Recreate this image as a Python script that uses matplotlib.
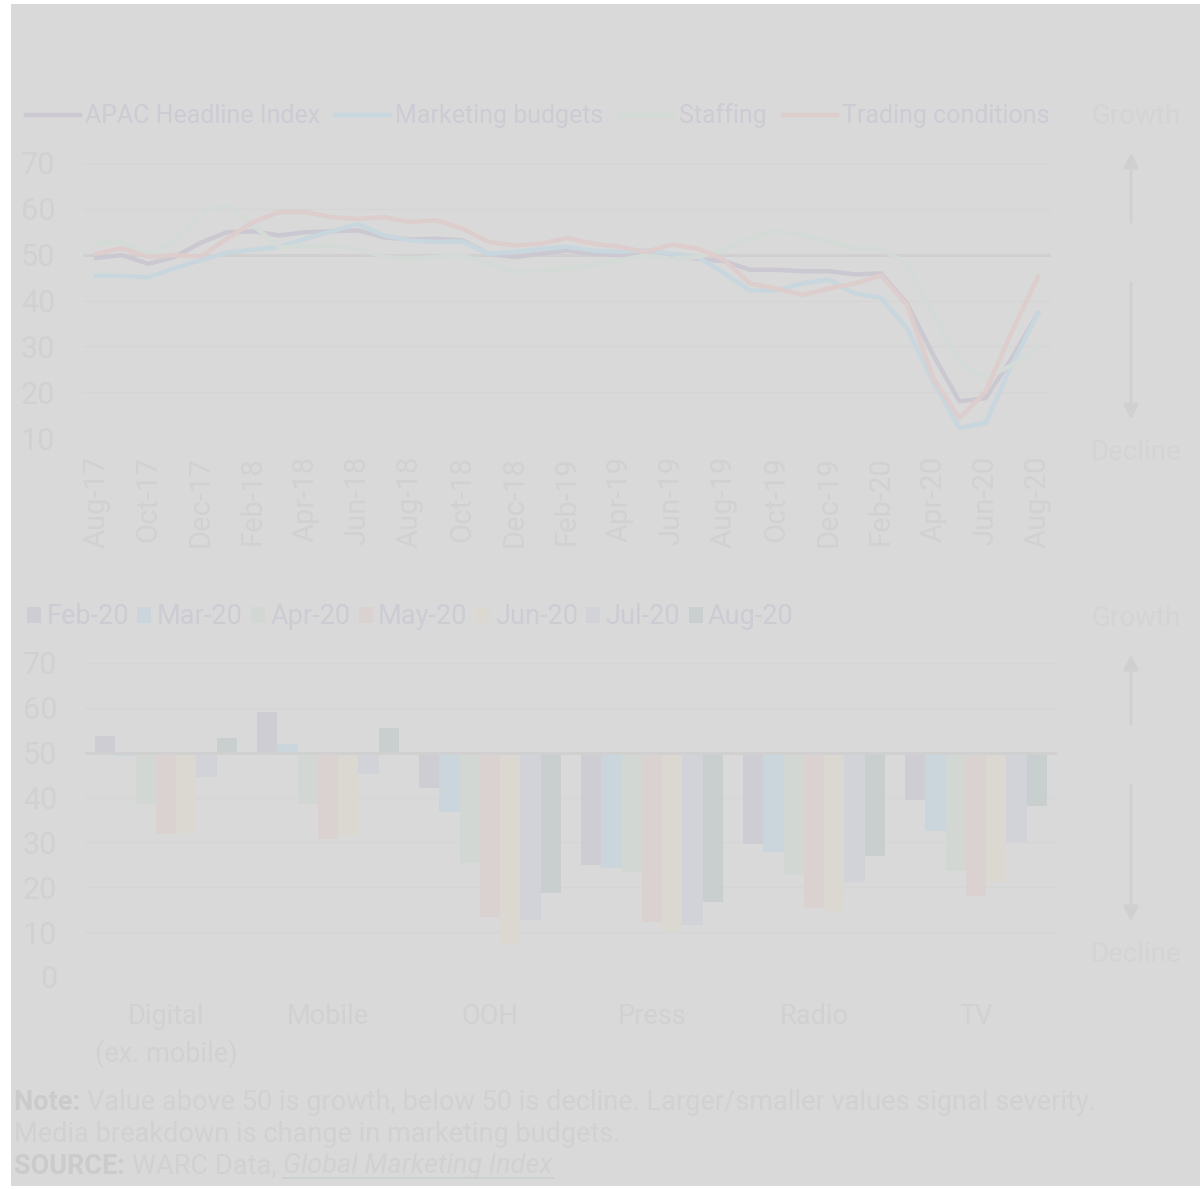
import matplotlib
matplotlib.use('Agg')
import matplotlib.pyplot as plt
from matplotlib.patches import Rectangle, FancyArrowPatch
from matplotlib.lines import Line2D
import numpy as np

plt.rcParams['font.family'] = ['Roboto', 'DejaVu Sans']

# --- data: line chart (APAC index, monthly Aug-17 .. Aug-20) ---
months = ['Aug-17', 'Sep-17', 'Oct-17', 'Nov-17', 'Dec-17', 'Jan-18', 'Feb-18', 'Mar-18',
          'Apr-18', 'May-18', 'Jun-18', 'Jul-18', 'Aug-18', 'Sep-18', 'Oct-18', 'Nov-18',
          'Dec-18', 'Jan-19', 'Feb-19', 'Mar-19', 'Apr-19', 'May-19', 'Jun-19', 'Jul-19',
          'Aug-19', 'Sep-19', 'Oct-19', 'Nov-19', 'Dec-19', 'Jan-20', 'Feb-20', 'Mar-20',
          'Apr-20', 'May-20', 'Jun-20', 'Jul-20', 'Aug-20']
headline = [49.3, 49.9, 48.0, 49.5, 52.6, 54.9, 55.1, 54.2, 54.9, 55.1, 55.3, 53.8, 53.3,
            53.5, 53.1, 50.2, 49.5, 50.2, 50.9, 50.2, 49.9, 50.2, 49.9, 49.1, 48.6, 46.7,
            46.7, 46.4, 46.4, 45.7, 45.9, 39.3, 28.1, 18.0, 18.7, 27.4, 37.2]
marketing = [45.4, 45.4, 45.1, 47.0, 48.8, 50.4, 51.1, 51.7, 53.5, 55.1, 56.7, 54.2, 53.1,
             52.8, 52.9, 50.2, 50.6, 51.3, 51.7, 50.9, 50.6, 50.9, 50.2, 49.5, 46.0, 42.2,
             42.2, 43.7, 44.6, 41.5, 40.6, 33.9, 22.3, 12.2, 13.3, 25.9, 37.2]
staffing = [52.4, 52.8, 50.2, 52.8, 59.3, 60.7, 56.4, 51.7, 51.7, 52.0, 51.3, 49.5, 49.1,
            49.5, 49.9, 48.0, 46.2, 46.6, 47.0, 47.7, 48.8, 49.9, 49.1, 49.5, 51.0, 53.5,
            55.3, 54.2, 52.8, 51.4, 51.3, 48.0, 36.8, 26.7, 23.0, 25.9, 29.9]
trading = [50.2, 51.4, 49.5, 49.9, 49.6, 53.5, 57.1, 59.3, 59.3, 58.2, 57.8, 58.2, 57.1,
           57.5, 55.7, 52.8, 52.0, 52.4, 53.6, 52.4, 51.7, 50.6, 52.2, 51.3, 48.9, 43.7,
           42.6, 41.2, 42.6, 43.7, 45.5, 39.0, 23.0, 14.3, 20.1, 33.2, 45.1]
line_names = ['APAC Headline Index', 'Marketing budgets', 'Staffing', 'Trading conditions']

# --- data: media breakdown bars ---
media = ['Digital\n(ex. mobile)', 'Mobile', 'OOH', 'Press', 'Radio', 'TV']
bar_months = ['Feb-20', 'Mar-20', 'Apr-20', 'May-20', 'Jun-20', 'Jul-20', 'Aug-20']
feb20 = [53.8, 59.1, 42.2, 25.0, 29.6, 39.5]
mar20 = [49.2, 51.9, 36.8, 24.4, 27.9, 32.6]
apr20 = [38.6, 38.5, 25.5, 23.5, 22.8, 23.6]
may20 = [31.8, 30.7, 13.4, 12.3, 15.3, 18.0]
jun20 = [32.1, 31.7, 7.3, 10.3, 14.8, 21.2]
jul20 = [44.6, 45.2, 12.6, 11.5, 21.1, 30.0]
aug20 = [53.3, 55.6, 18.7, 16.7, 27.0, 38.1]

# colours (very washed out)
bg = '#d9d9d9'
line_cols = ['#cbc8d1', '#c8d6de', '#d4dbd7', '#ddcdcd']
bar_cols = ['#cfcdd4', '#cad5dc', '#d3d7d4', '#dad1d1', '#dad8d0', '#d2d3d8', '#c9cfcf']
txt = '#cdcbd3'
tick_col = '#d1d1d1'
grid_col = '#d5d5d5'
base_col = '#d0d0d0'

W, H = 1200, 1189
fx = lambda x: x / W
fy = lambda y: 1 - y / H

fig = plt.figure(figsize=(12, 11.89), dpi=100)
fig.patch.set_facecolor('white')
fig.add_artist(Rectangle((fx(11), fy(1186)), fx(1189), (1186 - 4) / H,
                         transform=fig.transFigure, facecolor=bg, edgecolor='none', zorder=-10))

# ---------------- line chart ----------------
ax1 = fig.add_axes([fx(83), fy(438), 968 / W, 275 / H])
ax1.set_facecolor('none')
x = np.arange(len(months))
for vals, name, c in zip([headline, marketing, staffing, trading], line_names, line_cols):
    ax1.plot(x, vals, color=c, lw=3.2, label=name, solid_joinstyle='round', zorder=3)
ax1.set_xlim(-0.5, len(months) - 0.5)
ax1.set_ylim(10, 70)
ax1.set_yticks(range(10, 71, 10))
for v in range(10, 71, 10):
    if v != 50:
        ax1.axhline(v, color=grid_col, lw=1, zorder=1)
ax1.axhline(50, color=base_col, lw=2, zorder=2)
ax1.set_xticks(x[::2])
ax1.set_xticklabels(months[::2], rotation=90, ha='center', va='top')
ax1.tick_params(axis='y', length=0, pad=20, labelsize=22, labelcolor=tick_col)
ax1.tick_params(axis='x', length=0, pad=13, labelsize=21, labelcolor=tick_col)
for s in ax1.spines.values():
    s.set_visible(False)
ax1.legend(loc='center left', bbox_to_anchor=(fx(26), fy(116)), bbox_transform=fig.transFigure,
           ncol=4, frameon=False, handlelength=2.16, handletextpad=0.2, columnspacing=0.65,
           borderpad=0, borderaxespad=0, fontsize=18, labelcolor=txt)

# ---------------- bar chart ----------------
ax2 = fig.add_axes([fx(85), fy(977), 972 / W, 314 / H])
ax2.set_facecolor('none')
xc = np.arange(len(media))
bw = 0.877 / 7
for j, (vals, name) in enumerate(zip([feb20, mar20, apr20, may20, jun20, jul20, aug20], bar_months)):
    ax2.bar(xc + (j - 3) * bw, np.array(vals) - 50, bottom=50, width=bw,
            color=bar_cols[j], label=name, zorder=3)
ax2.set_xlim(-0.5, len(media) - 0.5)
ax2.set_ylim(0, 70)
ax2.set_yticks(range(0, 71, 10))
for v in range(0, 71, 10):
    if v != 50:
        ax2.axhline(v, color=grid_col, lw=1, zorder=1)
ax2.axhline(50, color=base_col, lw=2, zorder=4)
ax2.set_xticks(xc)
ax2.set_xticklabels(media, linespacing=1.4, va='top')
ax2.tick_params(axis='y', length=0, pad=20, labelsize=22, labelcolor=tick_col)
ax2.tick_params(axis='x', length=0, pad=19, labelsize=19.5, labelcolor=tick_col)
for s in ax2.spines.values():
    s.set_visible(False)
ax2.legend(loc='center left', bbox_to_anchor=(fx(27), fy(617)), bbox_transform=fig.transFigure,
           ncol=7, frameon=False, handlelength=0.52, handleheight=0.52, handletextpad=0.2,
           columnspacing=0.3, borderpad=0, borderaxespad=0, fontsize=19.5, labelcolor=txt)

# ---------------- growth / decline markers ----------------
gd_col = '#d4d4d4'
arrow_col = '#d0d0d0'
for top in (0, 502):
    fig.text(fx(1136), fy(117 + top), 'Growth', ha='center', va='center', fontsize=20, color=gd_col)
    fig.text(fx(1136), fy(452 + top), 'Decline', ha='center', va='center', fontsize=20, color=gd_col)
    fig.add_artist(FancyArrowPatch((fx(1131), fy(225 + top)), (fx(1131), fy(150 + top)),
                                   transform=fig.transFigure, arrowstyle='-|>', mutation_scale=22,
                                   lw=2, color=arrow_col))
    fig.add_artist(FancyArrowPatch((fx(1131), fy(280 + top)), (fx(1131), fy(422 + top)),
                                   transform=fig.transFigure, arrowstyle='-|>', mutation_scale=22,
                                   lw=2, color=arrow_col))

# ---------------- footer ----------------
foot_bold = '#cbcbcb'
foot_txt = '#d1d1d1'
fs = 19.5
renderer = fig.canvas.get_renderer()


def run(x0, y, parts):
    xpos = x0
    for s, kw in parts:
        t = fig.text(fx(xpos), fy(y), s, ha='left', va='center', fontsize=fs, **kw)
        bb = t.get_window_extent(renderer)
        if kw.get('style') == 'italic':
            fig.add_artist(Line2D([fx(xpos), fx(xpos + bb.width)], [fy(y + 12), fy(y + 12)],
                                  transform=fig.transFigure, color='#c9d0d0', lw=1.2))
        xpos += bb.width


run(14, 1103, [('Note: ', dict(weight='bold', color=foot_bold)),
               ('Value above 50 is growth, below 50 is decline. Larger/smaller values signal severity.',
                dict(color=foot_txt))])
run(14, 1135, [('Media breakdown is change in marketing budgets.', dict(color=foot_txt))])
run(14, 1166, [('SOURCE: ', dict(weight='bold', color=foot_bold)),
               ('WARC Data, ', dict(color=foot_txt)),
               ('Global Marketing Index', dict(color=foot_txt, style='italic'))])

fig.savefig('out.png', dpi=100, facecolor=fig.get_facecolor())
